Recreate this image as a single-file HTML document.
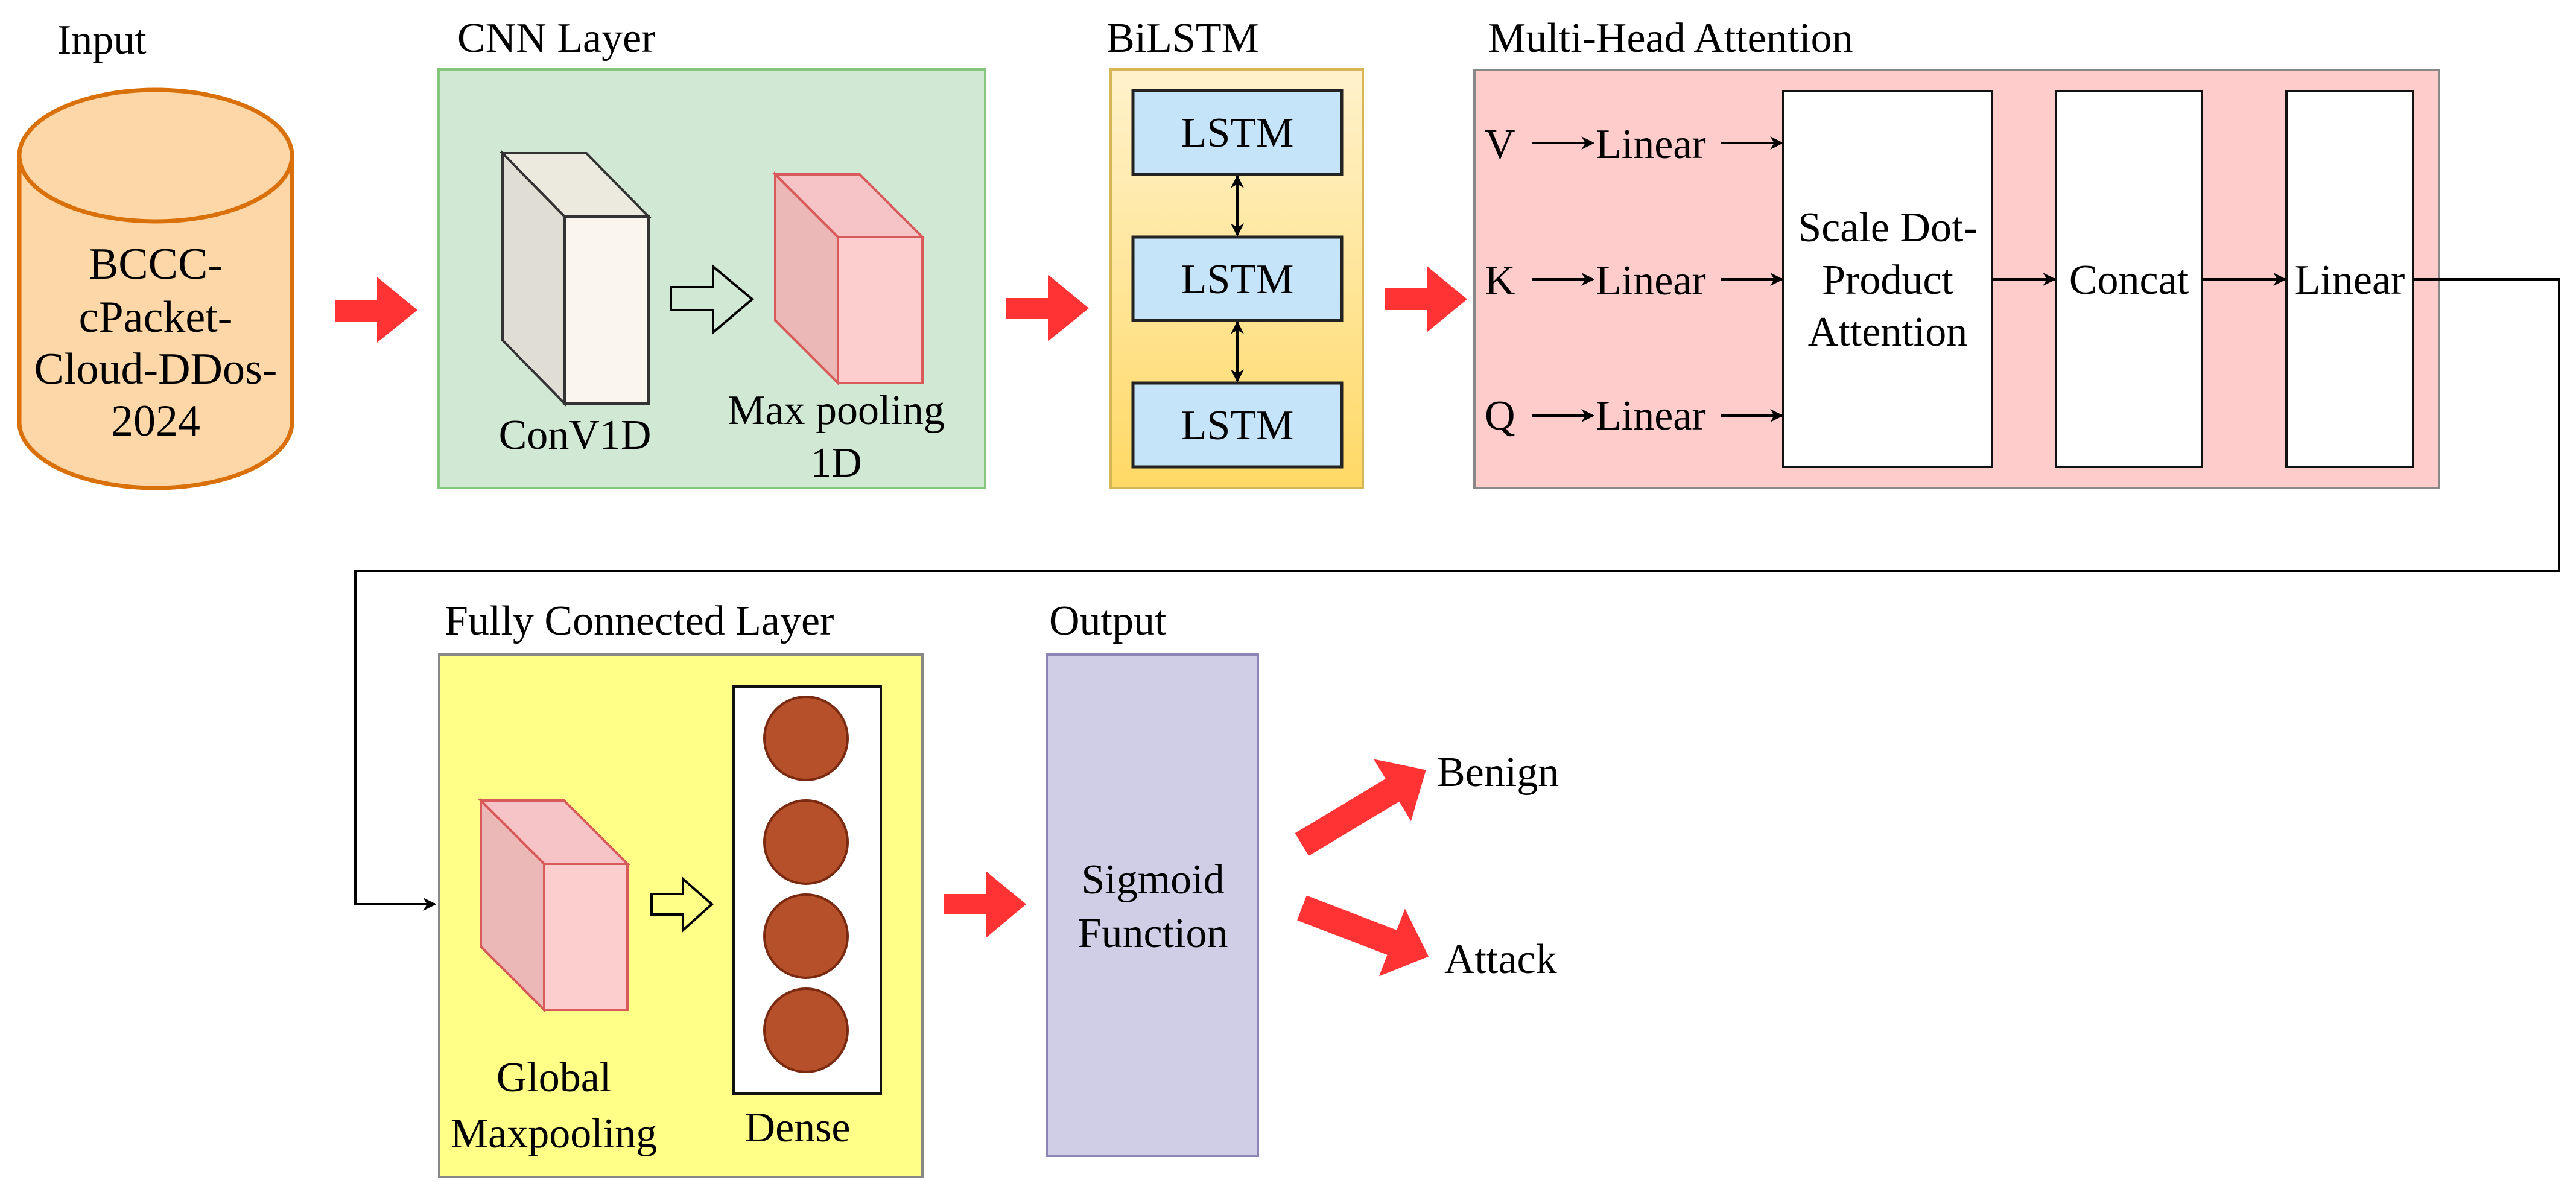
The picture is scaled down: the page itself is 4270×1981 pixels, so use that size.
<!DOCTYPE html>
<html><head><meta charset="utf-8"><style>html,body{margin:0;padding:0;background:#fff}svg{display:block}svg text{font-family:"Liberation Serif","Times New Roman",serif !important;fill:#000}</style></head><body>
<svg width="4270" height="1981" viewBox="0 0 4270 1981" xmlns="http://www.w3.org/2000/svg" font-family="'Liberation Serif', serif">
<defs>
<linearGradient id="gy" x1="0" y1="0" x2="0" y2="1"><stop offset="0" stop-color="#fff2cc"/><stop offset="1" stop-color="#ffd966"/></linearGradient>
<marker id="a2" viewBox="0 0 10 10" markerWidth="22" markerHeight="22" refX="9" refY="5" orient="auto-start-reverse" markerUnits="userSpaceOnUse"><path d="M0,0 L10,5 L0,10 L3,5 z" fill="#000"/></marker>
</defs>
<g font-size="70" font-family="'Liberation Serif', serif">
<!-- Input -->
<text x="95" y="89">Input</text>
<path d="M32,258 L32,700 A226,109 0 0 0 484,700 L484,258" fill="#fed7a8" stroke="#d9700a" stroke-width="7"/>
<ellipse cx="258" cy="258" rx="226" ry="109" fill="#fed7a8" stroke="#d9700a" stroke-width="7"/>
<text x="258" y="462" text-anchor="middle" font-size="74">BCCC-</text>
<text x="258" y="550" text-anchor="middle" font-size="74">cPacket-</text>
<text x="258" y="636" text-anchor="middle" font-size="74">Cloud-DDos-</text>
<text x="258" y="722" text-anchor="middle" font-size="74">2024</text>
<polygon points="555,497 625,497 625,459 692,514 625,568 625,533 555,533" fill="#ff3333"/>
<!-- CNN -->
<text x="758" y="86">CNN Layer</text>
<rect x="727" y="115" width="906" height="694" fill="#d0e8d4" stroke="#82c77c" stroke-width="4"/>
<polygon points="833,254 936,359 936,669 833,564" fill="#e0ddd5" stroke="#333" stroke-width="4"/>
<polygon points="833,254 972,254 1075,359 936,359" fill="#ece9df" stroke="#333" stroke-width="4"/>
<rect x="936" y="359" width="139" height="310" fill="#faf6ee" stroke="#333" stroke-width="4"/>
<polygon points="1112,476 1182,476 1182,442 1247,496 1182,551 1182,514 1112,514" fill="none" stroke="#000" stroke-width="4"/>
<polygon points="1285,289 1389,393 1389,635 1285,531" fill="#ebb7b7" stroke="#d85a5a" stroke-width="4"/>
<polygon points="1285,289 1425,289 1529,393 1389,393" fill="#f6c3c6" stroke="#d85a5a" stroke-width="4"/>
<rect x="1389" y="393" width="140" height="242" fill="#fccece" stroke="#d85a5a" stroke-width="4"/>
<text x="953" y="744" text-anchor="middle">ConV1D</text>
<text x="1386" y="703" text-anchor="middle">Max pooling</text>
<text x="1386" y="790" text-anchor="middle">1D</text>
<polygon points="1668,494 1738,494 1738,456 1805,511 1738,565 1738,528 1668,528" fill="#ff3333"/>
<!-- BiLSTM -->
<text x="1834" y="86">BiLSTM</text>
<rect x="1841" y="115" width="418" height="694" fill="url(#gy)" stroke="#d6b656" stroke-width="4"/>
<rect x="1878" y="150" width="346" height="139" fill="#c5e4f9" stroke="#222" stroke-width="5"/>
<rect x="1878" y="393" width="346" height="138" fill="#c5e4f9" stroke="#222" stroke-width="5"/>
<rect x="1878" y="635" width="346" height="139" fill="#c5e4f9" stroke="#222" stroke-width="5"/>
<text x="2051" y="243" text-anchor="middle">LSTM</text>
<text x="2051" y="486" text-anchor="middle">LSTM</text>
<text x="2051" y="728" text-anchor="middle">LSTM</text>
<line x1="2051" y1="292" x2="2051" y2="390" stroke="#000" stroke-width="4" marker-start="url(#a2)" marker-end="url(#a2)"/>
<line x1="2051" y1="534" x2="2051" y2="632" stroke="#000" stroke-width="4" marker-start="url(#a2)" marker-end="url(#a2)"/>
<polygon points="2295,478 2365,478 2365,441 2432,496 2365,551 2365,514 2295,514" fill="#ff3333"/>
<!-- MHA -->
<text x="2467" y="86">Multi-Head Attention</text>
<rect x="2444" y="116" width="1599" height="693" fill="#ffcccc" stroke="#888" stroke-width="4"/>
<rect x="2956" y="151" width="346" height="623" fill="#fff" stroke="#111" stroke-width="4"/>
<rect x="3408" y="151" width="242" height="623" fill="#fff" stroke="#111" stroke-width="4"/>
<rect x="3790" y="151" width="210" height="623" fill="#fff" stroke="#111" stroke-width="4"/>
<text x="2461" y="262">V</text><text x="2461" y="488">K</text><text x="2461" y="712">Q</text>
<text x="2645" y="262">Linear</text><text x="2645" y="488">Linear</text><text x="2645" y="712">Linear</text>
<g stroke="#000" stroke-width="4" marker-end="url(#a2)">
<line x1="2539" y1="237" x2="2641" y2="237"/><line x1="2853" y1="237" x2="2954" y2="237"/>
<line x1="2539" y1="463" x2="2641" y2="463"/><line x1="2853" y1="463" x2="2954" y2="463"/>
<line x1="2539" y1="689" x2="2641" y2="689"/><line x1="2853" y1="689" x2="2954" y2="689"/>
<line x1="3302" y1="463" x2="3406" y2="463"/><line x1="3650" y1="463" x2="3788" y2="463"/>
</g>
<text x="3129" y="400" text-anchor="middle">Scale Dot-</text>
<text x="3129" y="487" text-anchor="middle">Product</text>
<text x="3129" y="573" text-anchor="middle">Attention</text>
<text x="3529" y="487" text-anchor="middle">Concat</text>
<text x="3895" y="487" text-anchor="middle">Linear</text>
<polyline points="4000,463 4242,463 4242,947 589,947 589,1499 721,1499" fill="none" stroke="#000" stroke-width="4" marker-end="url(#a2)"/>
<!-- FC -->
<text x="737" y="1052">Fully Connected Layer</text>
<rect x="728" y="1085" width="801" height="866" fill="#ffff88" stroke="#888" stroke-width="4"/>
<polygon points="797,1327 902,1432 902,1674 797,1569" fill="#ebb7b7" stroke="#d85a5a" stroke-width="4"/>
<polygon points="797,1327 935,1327 1040,1432 902,1432" fill="#f6c3c6" stroke="#d85a5a" stroke-width="4"/>
<rect x="902" y="1432" width="138" height="242" fill="#fccece" stroke="#d85a5a" stroke-width="4"/>
<polygon points="1080,1482 1132,1482 1132,1457 1180,1499 1132,1542 1132,1516 1080,1516" fill="none" stroke="#000" stroke-width="4"/>
<rect x="1216" y="1138" width="244" height="675" fill="#fff" stroke="#111" stroke-width="4"/>
<g fill="#b5502a" stroke="#7a2a10" stroke-width="4"><circle cx="1336" cy="1224" r="69"/><circle cx="1336" cy="1396" r="69"/><circle cx="1336" cy="1552" r="69"/><circle cx="1336" cy="1708" r="69"/></g>
<text x="918" y="1809" text-anchor="middle">Global</text>
<text x="918" y="1902" text-anchor="middle">Maxpooling</text>
<text x="1322" y="1892" text-anchor="middle">Dense</text>
<polygon points="1564,1482 1634,1482 1634,1444 1701,1499 1634,1555 1634,1516 1564,1516" fill="#ff3333"/>
<!-- Output -->
<text x="1739" y="1052">Output</text>
<rect x="1736" y="1085" width="349" height="831" fill="#d0cee6" stroke="#8c85b8" stroke-width="4"/>
<text x="1911" y="1481" text-anchor="middle">Sigmoid</text>
<text x="1911" y="1570" text-anchor="middle">Function</text>
<polygon fill="#ff3333" transform="translate(2158,1400) rotate(-31)" points="0,-22 175,-22 175,-60 240,0 175,60 175,22 0,22"/>
<polygon fill="#ff3333" transform="translate(2158,1505) rotate(21)" points="0,-22 160,-22 160,-60 225,0 160,60 160,22 0,22"/>
<text x="2382" y="1303">Benign</text>
<text x="2394" y="1613">Attack</text>
</g>
</svg>
</body></html>
